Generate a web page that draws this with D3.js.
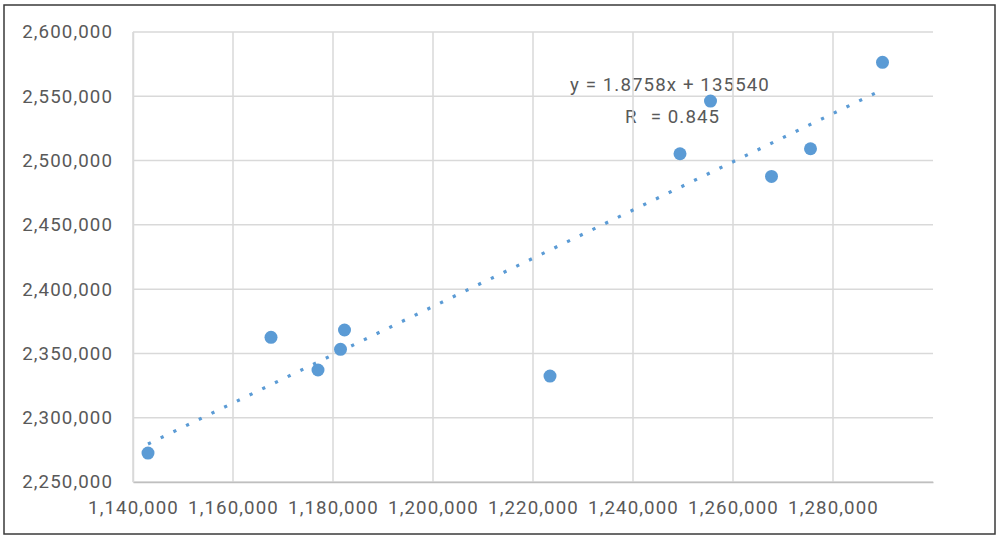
<!DOCTYPE html>
<html><head><meta charset="utf-8">
<script src="https://cdn.jsdelivr.net/npm/d3@7"></script>
<style>
html,body{margin:0;padding:0;background:#fff;}
svg text{font-family:Roboto,"Noto Sans",sans-serif;fill:#595959;letter-spacing:1.1px;}
</style></head>
<body><svg id="c" width="1001" height="540"></svg>
<script>
// Data (x, y)
const xValues = [1143000, 1167600, 1177000, 1181500, 1182300, 1223400, 1249400, 1255500, 1267700, 1275500, 1289900];
const yValues = [2272500, 2362500, 2337100, 2353200, 2368200, 2332400, 2505300, 2546300, 2487700, 2509200, 2576400];
const xTicks = [1140000, 1160000, 1180000, 1200000, 1220000, 1240000, 1260000, 1280000];
const yTicks = [2250000, 2300000, 2350000, 2400000, 2450000, 2500000, 2550000, 2600000];
const xDomain = [1140000, 1300000];
const yDomain = [2250000, 2600000];
const trendSlope = 1.8758;
const trendIntercept = 135540;
const eqLabel = "y = 1.8758x + 135540";
const r2Value = "0.845";

const svg = d3.select("#c");
const L = 133, R = 933, T = 32, B = 482;
const x = d3.scaleLinear().domain(xDomain).range([L, R]);
const y = d3.scaleLinear().domain(yDomain).range([B, T]);
const fmt = d3.format(",");

// border
svg.append("rect").attr("x", 4).attr("y", 5).attr("width", 991).attr("height", 529)
  .attr("fill", "#fff").attr("stroke", "#3a3a3a").attr("stroke-width", 1.5);

// trendline label (drawn under gridlines as in reference)
const lbl = svg.append("g").style("font-size", "18.7px");
lbl.append("text").attr("x", 570).attr("y", 91).text(eqLabel);
const r2 = lbl.append("text").attr("x", 625).attr("y", 123);
r2.append("tspan").text("R");
r2.append("tspan").attr("dy", -7).style("font-size", "11px").attr("fill", "#fff").text("2");
r2.append("tspan").attr("dy", 7).text(" = " + r2Value);

// gridlines
const grid = svg.append("g").attr("stroke", "#d9d9d9").attr("stroke-width", 1.5);
grid.selectAll("line.h").data(yTicks).join("line")
  .attr("x1", L).attr("x2", R).attr("y1", d => y(d)).attr("y2", d => y(d));
grid.selectAll("line.v").data(xTicks).join("line")
  .attr("y1", T).attr("y2", B).attr("x1", d => x(d)).attr("x2", d => x(d));

// axes
const xAxis = svg.append("g").attr("transform", `translate(0,${B})`)
  .call(d3.axisBottom(x).tickValues(xTicks).tickFormat(fmt).tickSize(0).tickPadding(19));
xAxis.select(".domain").attr("stroke", "#bfbfbf").attr("stroke-width", 1.5);
xAxis.selectAll("text").style("font-size", "18.7px").attr("fill", "#595959");
const yAxis = svg.append("g").attr("transform", `translate(${L},0)`)
  .call(d3.axisLeft(y).tickValues(yTicks).tickFormat(fmt).tickSize(0).tickPadding(20));
yAxis.select(".domain").attr("stroke", "#d9d9d9").attr("stroke-width", 1.5);
yAxis.selectAll("text").style("font-size", "18.7px").attr("fill", "#595959");

// points
const pts = xValues.map((v, i) => [v, yValues[i]]);
svg.append("g").selectAll("circle").data(pts).join("circle")
  .attr("cx", d => x(d[0])).attr("cy", d => y(d[1])).attr("r", 6.5)
  .attr("fill", "#5b9bd5");

// trendline
const xs = d3.extent(xValues);
svg.append("line")
  .attr("x1", x(xs[0])).attr("y1", y(trendSlope * xs[0] + trendIntercept))
  .attr("x2", x(xs[1])).attr("y2", y(trendSlope * xs[1] + trendIntercept))
  .attr("stroke", "#5b9bd5").attr("stroke-width", 3.2).attr("stroke-dasharray", "3.2,10.9");
</script></body></html>
